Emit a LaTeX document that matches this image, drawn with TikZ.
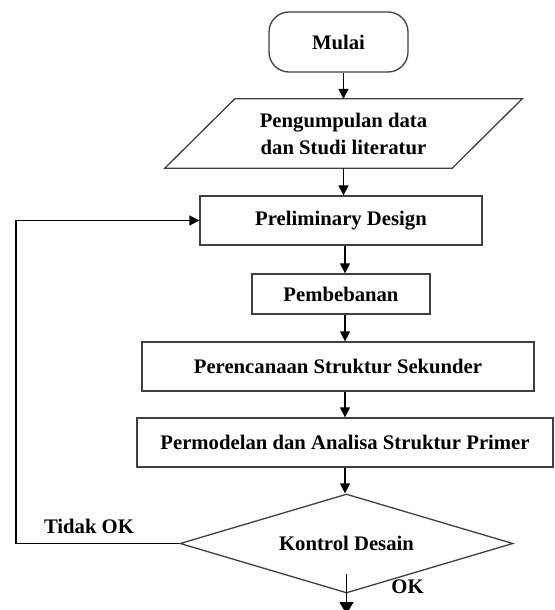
\documentclass[tikz,border=0pt]{standalone}
\usepackage{fontspec}
\setmainfont{Liberation Serif}
\usetikzlibrary{shapes.geometric,arrows.meta,calc}
\begin{document}
\begin{tikzpicture}[x=1pt,y=-1pt,
  txt/.style={font=\fontsize{20.7}{27}\selectfont\bfseries, text=black},
  boxnode/.style={txt, draw=black!75, line width=1.3pt, rectangle, inner sep=0pt, align=center},
  arr/.style={draw=black, line width=1.3pt, -{Triangle[length=10pt,width=10pt]}},
  bigarr/.style={draw=black, line width=1.3pt, -{Triangle[length=12pt,width=14pt]}},
  outline/.style={draw=black!75, line width=1.3pt}
]
\useasboundingbox (0,0) rectangle (554,610);
\node[boxnode, rounded corners=20pt, minimum width=139pt, minimum height=60pt] (mulai) at (338.5,42) {Mulai};
\node[txt, align=center, minimum width=287pt, minimum height=69pt, inner sep=0pt] (pg) at (343.5,133.5) {Pengumpulan data\\dan Studi literatur};
\draw[outline] ($(pg.north west)+(35,0)$) -- ($(pg.north east)+(35,0)$) -- ($(pg.south east)+(-35,0)$) -- ($(pg.south west)+(-35,0)$) -- cycle;
\node[boxnode, minimum width=282pt, minimum height=49pt] (pre) at (341,220.5) {Preliminary Design};
\node[boxnode, minimum width=178pt, minimum height=40pt] (pem) at (341,294) {Pembebanan};
\node[boxnode, minimum width=392pt, minimum height=49pt] (per) at (338,366.5) {Perencanaan Struktur Sekunder};
\node[boxnode, minimum width=416pt, minimum height=49pt] (mod) at (345,442.5) {Permodelan dan Analisa Struktur Primer};
\node[txt, diamond, outline, aspect=3.36, minimum width=333pt, minimum height=99pt, inner sep=0pt] (dia) at (346.5,543.5) {Kontrol Desain};
\node[txt] (tidak) at (89,526) {Tidak OK};
\node[txt] (ok) at (407.5,586.5) {OK};
\coordinate (fb) at (16,543.5);
\coordinate (endp) at (347,614);
\draw[arr] (mulai.south -| pg.north) -- (pg.north);
\draw[arr] (pg.south) -- (pg.south |- pre.north);
\draw[arr] (pre.south -| mod.north) -- (pem.north -| mod.north);
\draw[arr] (pem.south -| mod.north) -- (per.north -| mod.north);
\draw[arr] (per.south -| mod.north) -- (mod.north);
\draw[arr] (mod.south) -- (mod.south |- dia.north);
\draw[arr] (dia.west) -- (dia.west -| fb) |- (pre.west);
\draw[bigarr] ($(dia.south)+(0,-20)$) -- (dia.south |- endp);
\end{tikzpicture}
\end{document}
